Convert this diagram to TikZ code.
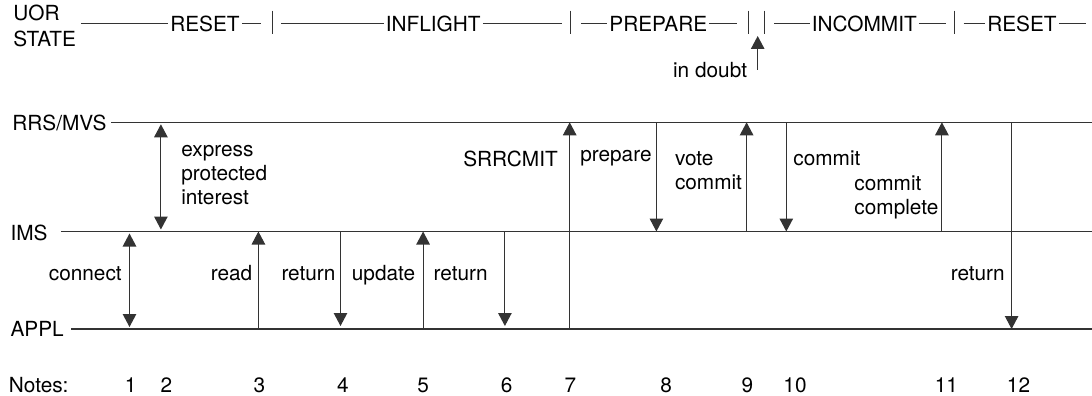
\documentclass[tikz,border=0pt]{standalone}
\usepackage{fontspec}
\setmainfont{TeX Gyre Heros}
\usetikzlibrary{arrows.meta}
\newcommand{\stack}[1]{\begin{tabular}[t]{@{}l@{}}#1\end{tabular}}
\begin{document}
\begin{tikzpicture}[x=1pt,y=-1pt,
  every node/.style={inner sep=0pt, font=\fontsize{20.8}{24}\selectfont},
  statelbl/.style={anchor=base, inner xsep=2pt},
  life/.style={draw=black!80, line width=1.1pt},
  topline/.style={draw=black!80, line width=1pt},
  arr/.style={draw=black!80, line width=1.1pt, -{Triangle[width=13.5pt,length=13pt]}},
  darr/.style={draw=black!80, line width=1.1pt, {Triangle[width=13.5pt,length=13pt]}-{Triangle[width=13.5pt,length=13pt]}, shorten <=2pt, shorten >=2pt},
]
\useasboundingbox (0,0) rectangle (1092,396);

% ---------- UOR state row ----------
\node[anchor=base west, font=\fontsize{20.8}{26}\selectfont] (uor) at (13.2,20.7) {\stack{UOR\\STATE}};
\node[statelbl] (reset1) at (205,31.7) {RESET};
\node[statelbl] (inflight) at (433.2,31.7) {INFLIGHT};
\node[statelbl] (prepare) at (658.3,31.7) {PREPARE};
\node[statelbl] (incommit) at (864.3,31.7) {INCOMMIT};
\node[statelbl] (reset2) at (1022,31.7) {RESET};

\coordinate (u0) at (80.8,24);
\coordinate (u1) at (261,24);
\coordinate (u2) at (281.3,24);
\coordinate (u3) at (561.7,24);
\coordinate (u4) at (580.8,24);
\coordinate (u5) at (736.8,24);
\coordinate (u6) at (774,24);
\coordinate (u7) at (945.7,24);
\coordinate (u8) at (963.5,24);
\coordinate (u9) at (1086,24);

\draw[topline] (u0) -- (reset1.west |- u0);
\draw[topline] (reset1.east |- u0) -- (u1);
\draw[topline] (u2) -- (inflight.west |- u0);
\draw[topline] (inflight.east |- u0) -- (u3);
\draw[topline] (u4) -- (prepare.west |- u0);
\draw[topline] (prepare.east |- u0) -- (u5);
\draw[topline] (u6) -- (incommit.west |- u0);
\draw[topline] (incommit.east |- u0) -- (u7);
\draw[topline] (u8) -- (reset2.west |- u0);
\draw[topline] (reset2.east |- u0) -- (u9);

\foreach \i/\bx in {1/272.5, 2/570.4, 3/748, 4/764.7, 5/954.5} {
  \coordinate (bt\i) at (\bx,10.7);
  \coordinate (bb\i) at (\bx,34.3);
  \draw[topline] (bt\i) -- (bb\i);
}

\coordinate (id0) at (757.7,70);
\coordinate (id1) at (757.7,36);
\draw[arr] (id0) -- (id1);
\node[anchor=base east] (indoubt) at (747.3,77.3) {in doubt};

% ---------- lifelines ----------
\node[anchor=base west] (rrs) at (12.2,130.6) {RRS/MVS};
\node[anchor=base west] (ims) at (10.4,240) {IMS};
\node[anchor=base west] (appl) at (10.4,336.7) {APPL};
\node[anchor=base west] (notes) at (8.7,392) {Notes:};

\coordinate (rrsL) at (111,122.3);  \coordinate (rrsR) at (1092,122.3);
\coordinate (imsL) at (60.9,231.5); \coordinate (imsR) at (1092,231.5);
\coordinate (applL) at (71.4,329);  \coordinate (applR) at (1092,329);
\draw[life] (rrsL) -- (rrsR);
\draw[life] (imsL) -- (imsR);
\draw[life] (applL) -- (applR);

% ---------- message columns ----------
\foreach \i/\mx in {1/129.5, 2/160.9, 3/258.4, 4/340.5, 5/423.1, 6/504.9,
                    7/569.7, 8/656.4, 9/746.6, 10/786.3, 11/941.9, 12/1011.6}
  \coordinate (m\i) at (\mx,0);

\draw[darr] (m1 |- imsL) -- (m1 |- applL);
\draw[darr] (m2 |- rrsL) -- (m2 |- imsL);
\draw[arr] (m3 |- applL) -- (m3 |- imsL);
\draw[arr, shorten >=3pt] (m4 |- imsL) -- (m4 |- applL);
\draw[arr] (m5 |- applL) -- (m5 |- imsL);
\draw[arr, shorten >=3pt] (m6 |- imsL) -- (m6 |- applL);
\draw[arr] (m7 |- applL) -- (m7 |- rrsL);
\draw[arr] (m8 |- rrsL) -- (m8 |- imsL);
\draw[arr] (m9 |- imsL) -- (m9 |- rrsL);
\draw[arr] (m10 |- rrsL) -- (m10 |- imsL);
\draw[arr] (m11 |- imsL) -- (m11 |- rrsL);
\draw[arr] (m12 |- rrsL) -- (m12 |- applL);

% ---------- message labels ----------
\node[anchor=base east] (lconnect) at (121.9,280.7) {connect};
\node[anchor=base west] (lexpress) at (181.1,156.7) {\stack{express\\protected\\interest}};
\node[anchor=base east] (lread) at (252.4,280.7) {read};
\node[anchor=base west] (lreturn4) at (281.3,280.7) {return};
\node[anchor=base west] (lupdate) at (351.7,280.7) {update};
\node[anchor=base west] (lreturn6) at (433.5,280.7) {return};
\node[anchor=base west] (lsrrcmit) at (463.1,166.7) {SRRCMIT};
\node[anchor=base west] (lprepare) at (580.1,161.7) {prepare};
\node[anchor=base west] (lvote) at (674.8,165) {\stack{vote\\commit}};
\node[anchor=base west] (lcommit) at (793.2,165) {commit};
\node[anchor=base west] (lcomplete) at (854.2,190) {\stack{commit\\complete}};
\node[anchor=base east] (lreturn12) at (1004.9,280.7) {return};

% ---------- note numbers ----------
\foreach \i/\nx in {1/130.6, 2/166.4, 3/259.4, 4/343, 5/423.1, 6/506.6,
                    7/570.4, 8/666.1, 9/747.3, 10/795, 11/946.4, 12/1018.5}
  \node[anchor=base] (n\i) at (\nx,392) {\i};
\end{tikzpicture}
\end{document}
